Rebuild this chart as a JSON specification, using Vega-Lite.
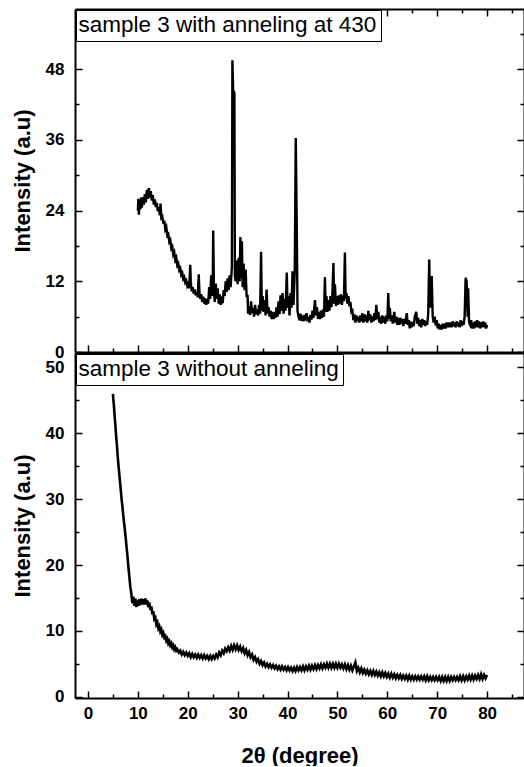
{
"$schema": "https://vega.github.io/schema/vega-lite/v6.json",
"padding": {"left": 11, "top": 8, "right": 0, "bottom": 0},
"autosize": {"type": "pad"},
"spacing": 1,
"bounds": "flush",
"config": {
  "view": {"stroke": null},
  "font": "Liberation Sans",
  "axis": {"domainColor": "black", "domainWidth": 2, "tickColor": "black", "tickWidth": 1.5, "grid": false,
    "labelFont": "Liberation Sans", "labelFontWeight": "bold", "labelFontSize": 17, "labelColor": "black",
    "titleFont": "Liberation Sans", "titleFontWeight": "bold", "titleFontSize": 22, "titleColor": "black",
    "labelFlush": false, "labelOverlap": false},
  "legend": {"orient": "top-left", "offset": 1, "title": null, "strokeColor": "black", "padding": 4,
    "fillColor": "white", "labelFontSize": 22.5, "labelFont": "Liberation Sans", "labelColor": "black", "labelLimit": 0}
},
"datasets": {
"top": [
{"x":10.0,"y":24.0},{"x":10.1,"y":26.0},{"x":10.2,"y":23.3},{"x":10.35,"y":25.8},{"x":10.5,"y":24.2},{"x":10.65,"y":26.2},{"x":10.8,"y":24.5},{"x":11.0,"y":26.3},{"x":11.2,"y":25.0},{"x":11.4,"y":26.8},{"x":11.6,"y":25.4},{"x":11.8,"y":27.5},{"x":12.0,"y":26.0},{"x":12.2,"y":27.8},{"x":12.4,"y":26.2},{"x":12.6,"y":27.3},{"x":12.8,"y":25.7},{"x":13.0,"y":26.6},{"x":13.2,"y":25.0},{"x":13.4,"y":25.9},{"x":13.6,"y":24.6},{"x":13.8,"y":25.3},{"x":14.0,"y":23.9},{"x":14.2,"y":24.6},{"x":14.4,"y":23.2},{"x":14.55,"y":25.2},{"x":14.7,"y":22.8},{"x":14.9,"y":23.0},{"x":15.1,"y":21.8},{"x":15.3,"y":22.3},{"x":15.5,"y":20.8},{"x":15.7,"y":21.2},{"x":15.9,"y":19.8},{"x":16.1,"y":20.0},{"x":16.3,"y":18.7},{"x":16.5,"y":19.0},{"x":16.7,"y":17.6},{"x":16.9,"y":17.9},{"x":17.1,"y":16.5},{"x":17.3,"y":16.9},{"x":17.5,"y":15.6},{"x":17.7,"y":16.0},{"x":17.9,"y":14.7},{"x":18.1,"y":15.0},{"x":18.3,"y":13.9},{"x":18.5,"y":14.2},{"x":18.7,"y":13.1},{"x":18.9,"y":13.4},{"x":19.1,"y":12.4},{"x":19.3,"y":12.7},{"x":19.5,"y":11.8},{"x":19.7,"y":12.1},{"x":19.9,"y":11.2},{"x":20.1,"y":11.6},{"x":20.3,"y":10.8},{"x":20.5,"y":14.8},{"x":20.6,"y":12.0},{"x":20.8,"y":10.3},{"x":21.0,"y":11.0},{"x":21.2,"y":9.9},{"x":21.4,"y":10.6},{"x":21.6,"y":9.6},{"x":21.8,"y":10.2},{"x":22.0,"y":9.3},{"x":22.2,"y":13.2},{"x":22.35,"y":10.0},{"x":22.5,"y":9.0},{"x":22.7,"y":9.8},{"x":22.9,"y":8.5},{"x":23.1,"y":9.4},{"x":23.3,"y":8.2},{"x":23.5,"y":9.1},{"x":23.7,"y":8.0},{"x":23.9,"y":9.0},{"x":24.1,"y":8.2},{"x":24.3,"y":11.0},{"x":24.5,"y":9.0},{"x":24.7,"y":13.0},{"x":24.85,"y":9.5},{"x":25.0,"y":11.0},{"x":25.1,"y":20.6},{"x":25.25,"y":10.5},{"x":25.4,"y":8.5},{"x":25.6,"y":11.6},{"x":25.8,"y":9.0},{"x":26.0,"y":10.8},{"x":26.2,"y":8.2},{"x":26.4,"y":9.8},{"x":26.6,"y":8.0},{"x":26.8,"y":8.8},{"x":27.0,"y":8.3},{"x":27.2,"y":10.5},{"x":27.4,"y":9.5},{"x":27.6,"y":12.0},{"x":27.8,"y":10.2},{"x":28.0,"y":12.5},{"x":28.2,"y":10.5},{"x":28.4,"y":13.0},{"x":28.6,"y":11.0},{"x":28.85,"y":14.5},{"x":28.95,"y":49.5},{"x":29.1,"y":44.4},{"x":29.35,"y":44.0},{"x":29.45,"y":13.0},{"x":29.6,"y":12.0},{"x":29.8,"y":15.5},{"x":30.0,"y":11.5},{"x":30.2,"y":16.0},{"x":30.4,"y":12.0},{"x":30.55,"y":19.5},{"x":30.7,"y":12.5},{"x":30.85,"y":18.8},{"x":31.0,"y":11.0},{"x":31.2,"y":15.0},{"x":31.4,"y":10.5},{"x":31.6,"y":14.0},{"x":31.8,"y":9.5},{"x":32.0,"y":9.5},{"x":32.1,"y":6.5},{"x":32.3,"y":7.8},{"x":32.5,"y":6.3},{"x":32.7,"y":8.6},{"x":32.9,"y":6.6},{"x":33.1,"y":7.5},{"x":33.3,"y":6.0},{"x":33.5,"y":8.0},{"x":33.7,"y":6.4},{"x":33.9,"y":7.2},{"x":34.1,"y":6.2},{"x":34.3,"y":8.0},{"x":34.5,"y":6.5},{"x":34.7,"y":17.0},{"x":34.85,"y":7.0},{"x":35.0,"y":9.5},{"x":35.2,"y":6.8},{"x":35.4,"y":8.8},{"x":35.6,"y":6.2},{"x":35.8,"y":10.6},{"x":36.0,"y":6.5},{"x":36.2,"y":7.6},{"x":36.4,"y":6.0},{"x":36.6,"y":7.0},{"x":36.8,"y":5.6},{"x":37.0,"y":6.8},{"x":37.2,"y":5.6},{"x":37.4,"y":6.8},{"x":37.6,"y":5.8},{"x":37.8,"y":7.6},{"x":38.0,"y":6.0},{"x":38.2,"y":8.6},{"x":38.4,"y":6.4},{"x":38.6,"y":9.6},{"x":38.8,"y":7.0},{"x":39.0,"y":10.0},{"x":39.2,"y":6.5},{"x":39.4,"y":9.0},{"x":39.6,"y":7.0},{"x":39.85,"y":13.5},{"x":40.0,"y":7.5},{"x":40.2,"y":9.5},{"x":40.4,"y":6.2},{"x":40.6,"y":10.0},{"x":40.8,"y":7.5},{"x":41.0,"y":13.7},{"x":41.2,"y":8.0},{"x":41.45,"y":13.8},{"x":41.65,"y":36.3},{"x":41.85,"y":21.5},{"x":42.0,"y":7.0},{"x":42.2,"y":6.0},{"x":42.4,"y":5.4},{"x":42.6,"y":6.5},{"x":42.8,"y":5.3},{"x":43.0,"y":6.2},{"x":43.2,"y":5.2},{"x":43.4,"y":6.3},{"x":43.6,"y":5.4},{"x":43.8,"y":6.6},{"x":44.0,"y":5.2},{"x":44.2,"y":6.0},{"x":44.4,"y":5.0},{"x":44.6,"y":6.3},{"x":44.8,"y":5.5},{"x":45.0,"y":7.0},{"x":45.2,"y":5.8},{"x":45.5,"y":8.8},{"x":45.7,"y":6.2},{"x":45.9,"y":7.6},{"x":46.1,"y":5.6},{"x":46.3,"y":6.8},{"x":46.5,"y":5.6},{"x":46.7,"y":7.0},{"x":46.9,"y":5.8},{"x":47.1,"y":7.2},{"x":47.3,"y":6.0},{"x":47.5,"y":12.7},{"x":47.65,"y":6.8},{"x":47.8,"y":9.5},{"x":48.0,"y":6.8},{"x":48.2,"y":8.8},{"x":48.4,"y":7.0},{"x":48.6,"y":9.5},{"x":48.8,"y":7.6},{"x":49.0,"y":10.0},{"x":49.2,"y":15.1},{"x":49.35,"y":8.2},{"x":49.5,"y":11.5},{"x":49.7,"y":7.8},{"x":49.9,"y":9.5},{"x":50.1,"y":8.0},{"x":50.3,"y":9.6},{"x":50.5,"y":8.2},{"x":50.7,"y":9.8},{"x":50.9,"y":8.0},{"x":51.1,"y":9.6},{"x":51.3,"y":8.6},{"x":51.5,"y":16.9},{"x":51.65,"y":9.0},{"x":51.8,"y":10.0},{"x":52.0,"y":8.2},{"x":52.2,"y":9.5},{"x":52.4,"y":7.8},{"x":52.6,"y":8.5},{"x":52.8,"y":6.8},{"x":53.0,"y":7.0},{"x":53.2,"y":5.4},{"x":53.4,"y":6.4},{"x":53.6,"y":5.0},{"x":53.8,"y":6.2},{"x":54.0,"y":5.2},{"x":54.2,"y":6.0},{"x":54.4,"y":5.0},{"x":54.6,"y":6.2},{"x":54.8,"y":5.2},{"x":55.0,"y":6.6},{"x":55.2,"y":5.0},{"x":55.4,"y":6.4},{"x":55.6,"y":5.2},{"x":55.8,"y":6.2},{"x":56.0,"y":5.0},{"x":56.2,"y":7.0},{"x":56.4,"y":5.4},{"x":56.6,"y":6.4},{"x":56.8,"y":5.0},{"x":57.0,"y":6.0},{"x":57.2,"y":5.2},{"x":57.4,"y":6.6},{"x":57.6,"y":5.4},{"x":57.8,"y":8.0},{"x":58.0,"y":5.6},{"x":58.2,"y":6.8},{"x":58.4,"y":5.0},{"x":58.6,"y":6.0},{"x":58.8,"y":4.8},{"x":59.0,"y":6.2},{"x":59.2,"y":5.0},{"x":59.4,"y":6.0},{"x":59.6,"y":4.8},{"x":59.8,"y":6.2},{"x":60.0,"y":5.2},{"x":60.2,"y":10.0},{"x":60.35,"y":5.6},{"x":60.5,"y":7.5},{"x":60.7,"y":5.2},{"x":60.9,"y":6.2},{"x":61.1,"y":4.8},{"x":61.4,"y":6.8},{"x":61.6,"y":5.0},{"x":61.8,"y":6.0},{"x":62.0,"y":4.6},{"x":62.2,"y":5.8},{"x":62.4,"y":4.6},{"x":62.6,"y":5.8},{"x":62.8,"y":4.8},{"x":63.0,"y":5.6},{"x":63.2,"y":4.4},{"x":63.4,"y":5.6},{"x":63.6,"y":4.8},{"x":63.9,"y":6.6},{"x":64.1,"y":4.6},{"x":64.3,"y":5.4},{"x":64.5,"y":4.0},{"x":64.7,"y":5.2},{"x":64.9,"y":4.2},{"x":65.1,"y":5.0},{"x":65.3,"y":4.4},{"x":65.5,"y":6.0},{"x":65.8,"y":6.8},{"x":66.0,"y":4.8},{"x":66.2,"y":5.8},{"x":66.4,"y":4.4},{"x":66.6,"y":5.4},{"x":66.8,"y":4.2},{"x":67.0,"y":5.6},{"x":67.2,"y":4.6},{"x":67.4,"y":5.4},{"x":67.6,"y":4.4},{"x":67.8,"y":5.2},{"x":68.0,"y":4.6},{"x":68.2,"y":6.5},{"x":68.4,"y":15.7},{"x":68.6,"y":7.5},{"x":68.9,"y":12.9},{"x":69.1,"y":6.0},{"x":69.3,"y":5.0},{"x":69.5,"y":6.0},{"x":69.7,"y":4.5},{"x":69.9,"y":5.4},{"x":70.1,"y":4.0},{"x":70.3,"y":4.8},{"x":70.5,"y":3.8},{"x":70.7,"y":4.6},{"x":70.9,"y":3.8},{"x":71.1,"y":4.8},{"x":71.3,"y":4.0},{"x":71.5,"y":4.8},{"x":71.7,"y":4.0},{"x":71.9,"y":5.0},{"x":72.1,"y":4.2},{"x":72.3,"y":5.0},{"x":72.5,"y":4.2},{"x":72.7,"y":5.0},{"x":72.9,"y":4.2},{"x":73.1,"y":5.2},{"x":73.3,"y":4.4},{"x":73.5,"y":5.0},{"x":73.7,"y":4.2},{"x":73.9,"y":5.2},{"x":74.1,"y":4.4},{"x":74.3,"y":5.0},{"x":74.5,"y":4.2},{"x":74.7,"y":5.4},{"x":74.9,"y":4.4},{"x":75.1,"y":5.2},{"x":75.3,"y":4.6},{"x":75.5,"y":6.0},{"x":75.7,"y":12.6},{"x":75.9,"y":12.0},{"x":76.1,"y":6.0},{"x":76.2,"y":10.8},{"x":76.4,"y":5.0},{"x":76.6,"y":4.6},{"x":76.8,"y":5.4},{"x":77.0,"y":4.0},{"x":77.2,"y":5.0},{"x":77.4,"y":4.0},{"x":77.6,"y":5.2},{"x":77.8,"y":4.2},{"x":78.0,"y":5.4},{"x":78.2,"y":4.2},{"x":78.4,"y":5.2},{"x":78.6,"y":4.0},{"x":78.8,"y":5.0},{"x":79.0,"y":4.2},{"x":79.2,"y":5.2},{"x":79.4,"y":4.2},{"x":79.6,"y":5.0},{"x":79.8,"y":4.0},{"x":80.0,"y":4.6}
],
"bottom": [
{"x":5.0,"y":46.0},{"x":5.1,"y":45.0},{"x":5.2,"y":44.2},{"x":5.35,"y":42.5},{"x":5.5,"y":41.2},{"x":5.65,"y":39.5},{"x":5.8,"y":38.2},{"x":5.95,"y":36.6},{"x":6.1,"y":35.3},{"x":6.3,"y":33.6},{"x":6.5,"y":32.0},{"x":6.7,"y":30.3},{"x":6.9,"y":28.9},{"x":7.1,"y":27.3},{"x":7.3,"y":26.0},{"x":7.5,"y":24.6},{"x":7.7,"y":23.0},{"x":7.9,"y":21.5},{"x":8.1,"y":19.7},{"x":8.3,"y":18.2},{"x":8.5,"y":16.6},{"x":8.7,"y":15.6},{"x":8.9,"y":14.2},{"x":9.1,"y":15.2},{"x":9.3,"y":13.8},{"x":9.5,"y":14.9},{"x":9.7,"y":13.6},{"x":9.9,"y":14.6},{"x":10.1,"y":13.8},{"x":10.3,"y":14.8},{"x":10.5,"y":13.9},{"x":10.7,"y":14.9},{"x":10.9,"y":14.0},{"x":11.1,"y":14.8},{"x":11.3,"y":14.0},{"x":11.5,"y":14.9},{"x":11.7,"y":14.0},{"x":11.9,"y":14.6},{"x":12.1,"y":13.6},{"x":12.3,"y":14.3},{"x":12.5,"y":13.2},{"x":12.7,"y":13.7},{"x":12.9,"y":12.5},{"x":13.1,"y":13.0},{"x":13.3,"y":11.8},{"x":13.5,"y":12.0},{"x":13.7,"y":11.0},{"x":13.9,"y":11.3},{"x":14.1,"y":10.4},{"x":14.3,"y":10.7},{"x":14.5,"y":9.9},{"x":14.7,"y":10.2},{"x":14.9,"y":9.4},{"x":15.1,"y":9.7},{"x":15.3,"y":9.0},{"x":15.5,"y":9.2},{"x":15.7,"y":8.5},{"x":15.9,"y":8.8},{"x":16.1,"y":8.1},{"x":16.3,"y":8.4},{"x":16.5,"y":7.8},{"x":16.7,"y":8.1},{"x":16.9,"y":7.5},{"x":17.1,"y":7.8},{"x":17.3,"y":7.2},{"x":17.5,"y":7.5},{"x":17.7,"y":7.0},{"x":17.9,"y":7.2},{"x":18.2,"y":6.7},{"x":18.5,"y":7.0},{"x":18.8,"y":6.4},{"x":19.1,"y":6.8},{"x":19.4,"y":6.3},{"x":19.7,"y":6.7},{"x":20.0,"y":6.2},{"x":20.3,"y":6.6},{"x":20.6,"y":6.0},{"x":20.9,"y":6.5},{"x":21.2,"y":6.0},{"x":21.5,"y":6.4},{"x":21.8,"y":5.9},{"x":22.1,"y":6.4},{"x":22.4,"y":5.9},{"x":22.7,"y":6.3},{"x":23.0,"y":5.8},{"x":23.3,"y":6.3},{"x":23.6,"y":5.8},{"x":23.9,"y":6.2},{"x":24.2,"y":5.7},{"x":24.5,"y":6.2},{"x":24.8,"y":5.7},{"x":25.1,"y":6.2},{"x":25.4,"y":5.8},{"x":25.7,"y":6.4},{"x":26.0,"y":6.0},{"x":26.3,"y":6.7},{"x":26.6,"y":6.3},{"x":26.9,"y":7.0},{"x":27.2,"y":6.6},{"x":27.5,"y":7.3},{"x":27.8,"y":6.9},{"x":28.1,"y":7.5},{"x":28.4,"y":7.0},{"x":28.7,"y":7.7},{"x":29.0,"y":7.1},{"x":29.3,"y":7.8},{"x":29.6,"y":7.2},{"x":29.9,"y":7.8},{"x":30.2,"y":7.1},{"x":30.5,"y":7.6},{"x":30.8,"y":6.9},{"x":31.1,"y":7.4},{"x":31.4,"y":6.6},{"x":31.7,"y":7.1},{"x":32.0,"y":6.3},{"x":32.3,"y":6.8},{"x":32.6,"y":6.0},{"x":32.9,"y":6.4},{"x":33.2,"y":5.6},{"x":33.5,"y":6.0},{"x":33.8,"y":5.3},{"x":34.1,"y":5.7},{"x":34.4,"y":5.0},{"x":34.7,"y":5.4},{"x":35.0,"y":4.8},{"x":35.3,"y":5.2},{"x":35.6,"y":4.6},{"x":35.9,"y":5.0},{"x":36.2,"y":4.5},{"x":36.5,"y":4.9},{"x":36.8,"y":4.4},{"x":37.1,"y":4.8},{"x":37.4,"y":4.3},{"x":37.7,"y":4.7},{"x":38.0,"y":4.2},{"x":38.3,"y":4.6},{"x":38.6,"y":4.1},{"x":38.9,"y":4.6},{"x":39.2,"y":4.1},{"x":39.5,"y":4.5},{"x":39.8,"y":4.0},{"x":40.1,"y":4.5},{"x":40.4,"y":4.0},{"x":40.7,"y":4.4},{"x":41.0,"y":3.9},{"x":41.3,"y":4.4},{"x":41.6,"y":3.9},{"x":41.9,"y":4.5},{"x":42.2,"y":4.0},{"x":42.5,"y":4.5},{"x":42.8,"y":4.0},{"x":43.1,"y":4.6},{"x":43.4,"y":4.0},{"x":43.7,"y":4.6},{"x":44.0,"y":4.1},{"x":44.3,"y":4.7},{"x":44.6,"y":4.1},{"x":44.9,"y":4.7},{"x":45.2,"y":4.2},{"x":45.5,"y":4.8},{"x":45.8,"y":4.2},{"x":46.1,"y":4.8},{"x":46.4,"y":4.3},{"x":46.7,"y":4.9},{"x":47.0,"y":4.3},{"x":47.3,"y":4.9},{"x":47.6,"y":4.4},{"x":47.9,"y":5.0},{"x":48.2,"y":4.4},{"x":48.5,"y":5.0},{"x":48.8,"y":4.4},{"x":49.1,"y":5.0},{"x":49.4,"y":4.4},{"x":49.7,"y":5.0},{"x":50.0,"y":4.4},{"x":50.3,"y":5.0},{"x":50.6,"y":4.4},{"x":50.9,"y":4.9},{"x":51.2,"y":4.3},{"x":51.5,"y":4.9},{"x":51.8,"y":4.2},{"x":52.1,"y":4.8},{"x":52.4,"y":4.1},{"x":52.7,"y":4.7},{"x":53.0,"y":4.0},{"x":53.3,"y":4.6},{"x":53.6,"y":5.2},{"x":53.9,"y":3.9},{"x":54.2,"y":4.4},{"x":54.5,"y":3.7},{"x":54.8,"y":4.3},{"x":55.1,"y":3.6},{"x":55.4,"y":4.1},{"x":55.7,"y":3.5},{"x":56.0,"y":4.0},{"x":56.3,"y":3.4},{"x":56.6,"y":3.9},{"x":56.9,"y":3.3},{"x":57.2,"y":3.9},{"x":57.5,"y":3.3},{"x":57.8,"y":3.8},{"x":58.1,"y":3.2},{"x":58.4,"y":3.7},{"x":58.7,"y":3.1},{"x":59.0,"y":3.7},{"x":59.3,"y":3.1},{"x":59.6,"y":3.6},{"x":59.9,"y":3.0},{"x":60.2,"y":3.5},{"x":60.5,"y":2.9},{"x":60.8,"y":3.5},{"x":61.1,"y":2.9},{"x":61.4,"y":3.4},{"x":61.7,"y":2.8},{"x":62.0,"y":3.3},{"x":62.3,"y":2.8},{"x":62.6,"y":3.3},{"x":62.9,"y":2.7},{"x":63.2,"y":3.2},{"x":63.5,"y":2.7},{"x":63.8,"y":3.2},{"x":64.1,"y":2.6},{"x":64.4,"y":3.2},{"x":64.7,"y":2.6},{"x":65.0,"y":3.1},{"x":65.3,"y":2.6},{"x":65.6,"y":3.1},{"x":65.9,"y":2.6},{"x":66.2,"y":3.1},{"x":66.5,"y":2.6},{"x":66.8,"y":3.1},{"x":67.1,"y":2.6},{"x":67.4,"y":3.1},{"x":67.7,"y":2.5},{"x":68.0,"y":3.1},{"x":68.3,"y":2.5},{"x":68.6,"y":3.0},{"x":68.9,"y":2.5},{"x":69.2,"y":3.0},{"x":69.5,"y":2.5},{"x":69.8,"y":3.0},{"x":70.1,"y":2.5},{"x":70.4,"y":3.0},{"x":70.7,"y":2.4},{"x":71.0,"y":3.0},{"x":71.3,"y":2.4},{"x":71.6,"y":3.0},{"x":71.9,"y":2.4},{"x":72.2,"y":3.0},{"x":72.5,"y":2.4},{"x":72.8,"y":3.0},{"x":73.1,"y":2.5},{"x":73.4,"y":3.0},{"x":73.7,"y":2.5},{"x":74.0,"y":3.0},{"x":74.3,"y":2.5},{"x":74.6,"y":3.1},{"x":74.9,"y":2.5},{"x":75.2,"y":3.1},{"x":75.5,"y":2.5},{"x":75.8,"y":3.1},{"x":76.1,"y":2.6},{"x":76.4,"y":3.2},{"x":76.7,"y":2.6},{"x":77.0,"y":3.2},{"x":77.3,"y":2.6},{"x":77.6,"y":3.2},{"x":77.9,"y":2.7},{"x":78.2,"y":3.3},{"x":78.5,"y":2.7},{"x":78.8,"y":3.4},{"x":79.1,"y":2.7},{"x":79.4,"y":3.3},{"x":79.7,"y":2.8},{"x":80.0,"y":3.3}
]
},
"vconcat": [
{
  "width": 449, "height": 343,
  "data": {"name": "top"},
  "transform": [{"calculate": "'sample 3 with anneling at 430'", "as": "s"}],
  "layer": [
    {"mark": {"type": "line", "strokeWidth": 2.4},
     "encoding": {
       "x": {"field": "x", "type": "quantitative", "scale": {"domain": [-2.6, 87.4], "nice": false, "zero": false},
         "axis": {"orient": "bottom", "title": null, "labels": false, "values": [0,5,10,15,20,25,30,35,40,45,50,55,60,65,70,75,80,85],
           "tickSize": {"condition": {"test": "datum.value % 10 === 0", "value": -7}, "value": -4}}},
       "y": {"field": "y", "type": "quantitative", "scale": {"domain": [0, 58.2], "nice": false, "zero": false},
         "axis": {"orient": "left", "title": "Intensity (a.u)", "titlePadding": 11, "labelPadding": 18,
           "values": [0,6,12,18,24,30,36,42,48,54],
           "labelExpr": "datum.value % 12 === 0 ? datum.label : ''",
           "tickSize": {"condition": {"test": "datum.value % 12 === 0", "value": -7}, "value": -4}}},
       "color": {"field": "s", "type": "nominal", "scale": {"range": ["black"]},
         "legend": {"symbolType": "circle", "symbolSize": 0, "symbolOpacity": 0, "symbolStrokeWidth": 0, "labelOffset": -24}}
     }},
    {"mark": {"type": "line", "opacity": 0},
     "encoding": {
       "x": {"field": "x", "type": "quantitative",
         "axis": {"orient": "top", "title": null, "labels": false, "values": [0,5,10,15,20,25,30,35,40,45,50,55,60,65,70,75,80,85],
           "tickSize": {"condition": {"test": "datum.value % 10 === 0", "value": -7}, "value": -4}}},
       "y": {"field": "y", "type": "quantitative",
         "axis": {"orient": "right", "title": null, "labels": false, "values": [0,6,12,18,24,30,36,42,48,54],
           "tickSize": {"condition": {"test": "datum.value % 12 === 0", "value": -7}, "value": -4}}}
     }}
  ],
  "resolve": {"axis": {"x": "independent", "y": "independent"}}
},
{
  "width": 449, "height": 345,
  "data": {"name": "bottom"},
  "transform": [{"calculate": "'sample 3 without anneling'", "as": "s"}],
  "layer": [
    {"mark": {"type": "line", "strokeWidth": 2.6},
     "encoding": {
       "x": {"field": "x", "type": "quantitative", "scale": {"domain": [-2.6, 87.4], "nice": false, "zero": false},
         "axis": {"orient": "bottom", "title": "2θ (degree)", "titlePadding": 21, "labelPadding": 14,
           "values": [0,5,10,15,20,25,30,35,40,45,50,55,60,65,70,75,80,85],
           "labelExpr": "datum.value % 10 === 0 && datum.value <= 80 ? datum.label : ''",
           "tickSize": {"condition": {"test": "datum.value % 10 === 0", "value": -7}, "value": -4}}},
       "y": {"field": "y", "type": "quantitative", "scale": {"domain": [-0.2, 52.2], "nice": false, "zero": false},
         "axis": {"orient": "left", "title": "Intensity (a.u)", "titlePadding": 11, "labelPadding": 18,
           "values": [0,5,10,15,20,25,30,35,40,45,50],
           "labelExpr": "datum.value % 10 === 0 ? datum.label : ''",
           "tickSize": {"condition": {"test": "datum.value % 10 === 0", "value": -7}, "value": -4}}},
       "color": {"field": "s", "type": "nominal", "scale": {"range": ["black"]},
         "legend": {"symbolType": "circle", "symbolSize": 0, "symbolOpacity": 0, "symbolStrokeWidth": 0, "labelOffset": -24}}
     }},
    {"mark": {"type": "line", "opacity": 0},
     "encoding": {
       "x": {"field": "x", "type": "quantitative",
         "axis": {"orient": "top", "title": null, "labels": false, "ticks": false}},
       "y": {"field": "y", "type": "quantitative",
         "axis": {"orient": "right", "title": null, "labels": false, "values": [0,5,10,15,20,25,30,35,40,45,50],
           "tickSize": {"condition": {"test": "datum.value % 10 === 0", "value": -7}, "value": -4}}}
     }}
  ],
  "resolve": {"axis": {"x": "independent", "y": "independent"}}
}
],
"resolve": {"scale": {"color": "independent"}, "legend": {"color": "independent"}}
}
